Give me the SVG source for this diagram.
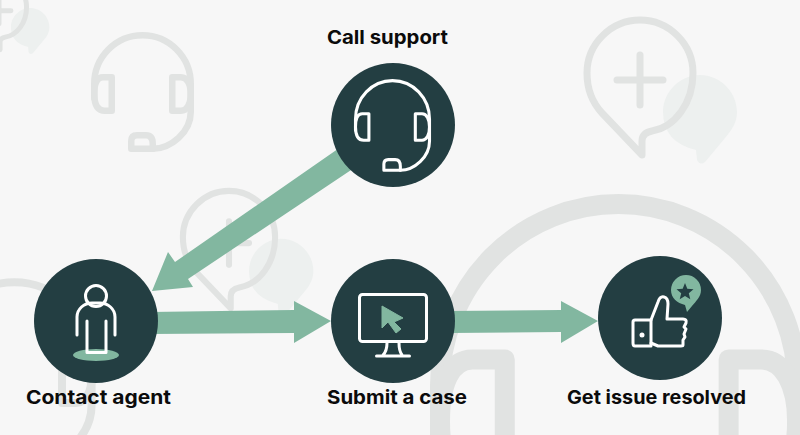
<svg xmlns="http://www.w3.org/2000/svg" xmlns:xlink="http://www.w3.org/1999/xlink" width="800" height="435" viewBox="0 0 800 435">
  <style>
    .node { fill: #233e42; }
    .line { fill: none; stroke: #fff; stroke-width: 3; stroke-linecap: round; stroke-linejoin: round; }
    .bgline { fill: none; stroke: #e1e3e2; stroke-linecap: round; stroke-linejoin: round; }
    .bgfill { fill: #edf0ef; stroke: none; }
    .accent { fill: #82b7a0; }
    .label { font-family: "Inter", "Liberation Sans", sans-serif; font-weight: 700; font-size: 19px; fill: #0b0b0b; text-anchor: middle; }
  </style>
  <defs>
    <g id="headset">
      <path d="M3.25 66V52A48.25 48.75 0 0 1 99.75 52V80C99.75 100 80 116.75 61.75 116.75"/>
      <path d="M20.75 45.25H12C6 45.25 3.25 52 3.25 62C3.25 72 6 78.75 14 78.75H20.75Z"/>
      <path d="M81.25 45.25H90C96 45.25 99.75 52 99.75 62C99.75 72 96 78.75 90 78.75H81.25Z"/>
      <path d="M40.25 116.75V109Q40.25 103.25 46 103.25H55Q61.75 103.25 61.75 112V116.75Z"/>
    </g>
    <g id="bubble">
      <path class="bgfill" transform="translate(60 39)" d="M-37 0C-37 -20 -20 -37 0 -37C20 -37 37 -20 37 0C37 12 30 20 25 26L5 50Q0 54 -3 48L-4 38Q-37 30 -37 0Z"/>
      <path class="bgline" d="M2 82L-38 40C-50 27 -53 14 -53 0C-53 -29 -29 -53 0 -53C29 -53 53 -29 53 0C53 30 35 54 12 58Q2 60 2 68Z"/>
      <path class="bgline" d="M-23 7H23M0 -18V32"/>
    </g>
  </defs>
  <rect width="800" height="435" fill="#f7f7f7"/>
  <g id="background">
    <use href="#bubble" transform="translate(-1 7) scale(.52)" stroke-width="9.6"/>
    <use href="#headset" class="bgline" transform="translate(91 32)" stroke-width="6.5"/>
    <use href="#bubble" transform="translate(640 73)" stroke-width="7"/>
    <use href="#bubble" transform="translate(229 237) scale(.87)" stroke-width="7"/>
    <use href="#headset" class="bgline" transform="translate(428 192) scale(3.7)" stroke-width="5.4"/>
    <use href="#headset" class="bgline" transform="translate(-68 277) scale(1.6)" stroke-width="5"/>
  </g>
  <g id="connectors" class="accent">
    <polygon points="345,144 175,262 168,252 152,291 193,287 188,279 375,154"/>
    <polygon points="150,312 294,310 294,301 331,321 294,343 294,333 150,334"/>
    <polygon points="450,311 561,310 561,301 598,321 561,343 561,332 450,333"/>
  </g>
  <g id="call-support">
    <circle class="node" cx="393" cy="125" r="62"/>
    <use href="#headset" class="line" style="stroke-width:4" transform="translate(353 78) scale(.767 .79)"/>
    <text class="label" x="387.500" y="44" textLength="121" lengthAdjust="spacingAndGlyphs">Call support</text>
  </g>
  <g id="contact-agent">
    <circle class="node" cx="96" cy="321" r="62"/>
    <ellipse class="accent" cx="96" cy="355" rx="23" ry="6"/>
    <circle class="line" cx="96" cy="296" r="10.500"/>
    <path class="line" d="M77 335V317C77 309 84 303 92 303H100C108 303 115 309 115 317V335"/>
    <path class="line" d="M87 321V352.500H106V321"/>
    <text class="label" x="98.500" y="404" textLength="145" lengthAdjust="spacingAndGlyphs">Contact agent</text>
  </g>
  <g id="submit-case">
    <circle class="node" cx="393" cy="321" r="62"/>
    <rect class="line" x="359.500" y="294.500" width="67" height="47" rx="3"/>
    <path class="line" d="M387 343Q387 351 383 355M399 343Q399 351 402 355M376.500 356H409.500"/>
    <polygon class="accent" points="382,306 403,318 394,322 401,329 396,333 388,322 382,328" stroke="#82b7a0" stroke-linejoin="round"/>
    <text class="label" x="397" y="404" textLength="140" lengthAdjust="spacingAndGlyphs">Submit a case</text>
  </g>
  <g id="get-issue-resolved">
    <circle class="node" cx="660" cy="318" r="62"/>
    <path class="accent" d="M671 290A15 15 0 0 1 701 290C701 297 696 301 692 306L687 312L685 305C677 303 671 298 671 290Z"/>
    <polygon class="node" points="685,283 687.300,288.700 693.500,289.200 688.800,293.200 690.300,299.200 685,296 679.700,299.200 681.200,293.200 676.500,289.200 682.700,288.700"/>
    <path class="line" d="M651 320H635Q633 320 633 322V343Q633 346 635 346H651Z"/>
    <path class="line" d="M651 320L658 302Q660 296 664 297Q668 298 668 304L667 319H683Q687 319 686 323L684 327L686 329L684 334L685 337L683 340L683 345Q683 346 681 346H658L651 343"/>
    <circle cx="642" cy="335" r="2.500" fill="#fff"/>
    <text class="label" x="656.500" y="404" textLength="179" lengthAdjust="spacingAndGlyphs">Get issue resolved</text>
  </g>
</svg>
